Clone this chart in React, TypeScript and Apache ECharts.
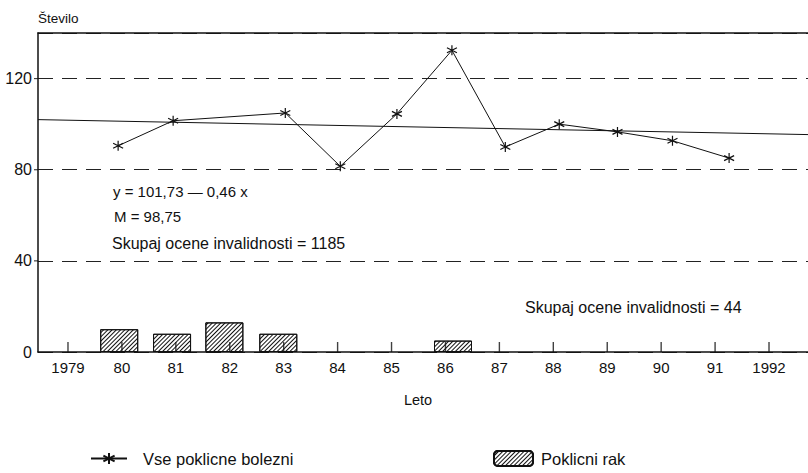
import React, { useEffect, useRef } from "react";
import * as echarts from "echarts";

// ---- data ----
const tickYears = [1979, 1980, 1981, 1982, 1983, 1984, 1985, 1986, 1987, 1988, 1989, 1990, 1991, 1992];
const lineYears = [1979.93, 1980.95, 1983.03, 1984.05, 1985.1, 1986.12, 1987.11, 1988.11, 1989.19, 1990.21, 1991.26];
const lineValues = [90.5, 101.5, 104.9, 81.5, 104.5, 132.4, 90, 100, 96.6, 92.7, 85.1];
const barYears = [1979.95, 1980.93, 1981.9, 1982.9, 1986.14];
const barValues = [10, 8, 13, 8, 5];
const yTicks = [0, 40, 80, 120];
const trendIntercept = 101.73;
const trendSlope = -0.46;
const trendOriginYear = 1979;

const X_MIN = 1978.444;
const X_MAX = 1992.723;
const FONT = '"Liberation Sans", Arial, Helvetica, sans-serif';
const INK = "#111";

const asterisk =
  "path://M5,0 L5,10 M0.67,2.5 L9.33,7.5 M0.67,7.5 L9.33,2.5";

export default function App() {
  const ref = useRef<HTMLDivElement>(null);
  useEffect(() => {
    if (!ref.current) return;
    const chart = echarts.init(ref.current, null, { renderer: "svg" });
    const trend = [X_MIN, X_MAX].map((yr) => [
      yr,
      trendIntercept + trendSlope * (yr - trendOriginYear),
    ]);
    const option: any = {
      animation: false,
      backgroundColor: "#fff",
      textStyle: { fontFamily: FONT, color: INK },
      grid: { left: 38, width: 770, top: 33, bottom: 121, containLabel: false },
      legend: [
        {
          data: [{ name: "Vse poklicne bolezni" }],
          left: 90,
          top: 450,
          padding: 0,
          itemWidth: 36,
          itemHeight: 14,
          textStyle: { fontSize: 16.5, color: INK, fontFamily: FONT, padding: [0, 0, 0, 11] },
        },
        {
          data: [{ name: "Poklicni rak" }],
          left: 493,
          top: 450,
          padding: 0,
          itemWidth: 39,
          itemHeight: 15,
          textStyle: { fontSize: 16.5, color: INK, fontFamily: FONT, padding: [0, 0, 0, 3] },
        },
      ],
      xAxis: [
        {
          type: "value",
          min: X_MIN,
          max: X_MAX,
          z: 5,
          name: "Leto",
          nameLocation: "middle",
          nameGap: 40,
          nameTextStyle: { fontSize: 14.5, color: INK, fontFamily: FONT, padding: [0, 10, 0, 0] },
          axisLine: { show: true, onZero: false, lineStyle: { color: INK, width: 1.5 } },
          axisTick: { show: false },
          axisLabel: {
            customValues: tickYears,
            fontSize: 15,
            color: INK,
            fontFamily: FONT,
            margin: 8,
            formatter: (v: number) => {
              const y = Math.round(v);
              return y === 1979 || y === 1992 ? String(y) : String(y % 100);
            },
          },
          splitLine: { show: false },
        },
        {
          type: "value",
          position: "top",
          min: X_MIN,
          max: X_MAX,
          z: 5,
          axisLine: { show: true, onZero: false, lineStyle: { color: INK, width: 1.5 } },
          axisTick: { show: false },
          axisLabel: { show: false },
          splitLine: { show: false },
        },
      ],
      yAxis: {
        type: "value",
        min: 0,
        max: 140,
        interval: 40,
        name: "Število",
        nameLocation: "end",
        nameGap: 8,
        nameTextStyle: { fontSize: 13.5, color: INK, fontFamily: FONT, align: "left" },
        axisLine: { show: true, lineStyle: { color: INK, width: 1.5 } },
        axisTick: { show: false },
        axisLabel: { customValues: yTicks, fontSize: 16, color: INK, fontFamily: FONT, margin: 6 },
        splitLine: {
          show: true,
          lineStyle: { color: "#222", type: [15, 9], width: 1 },
        },
      },
      series: [
        {
          name: "Poklicni rak",
          type: "bar",
          barWidth: 38,
          data: barYears.map((yr, i) => [yr, barValues[i]]),
          itemStyle: {
            color: "#fff",
            borderColor: INK,
            borderWidth: 1,
            decal: {
              symbol: "rect",
              symbolSize: 1,
              dashArrayX: [[1, 0]],
              dashArrayY: [1, 2],
              rotation: -Math.PI / 4,
              color: "#111",
              backgroundColor: "#fff",
            },
          },
        },
        {
          name: "trend",
          type: "line",
          data: trend,
          symbol: "none",
          lineStyle: { color: INK, width: 1 },
          silent: true,
        },
        {
          name: "Vse poklicne bolezni",
          type: "line",
          data: lineYears.map((yr, i) => [yr, lineValues[i]]),
          symbol: asterisk,
          symbolSize: 10,
          lineStyle: { color: INK, width: 1 },
          itemStyle: { color: INK, borderColor: INK, borderWidth: 1.2 },
          z: 4,
        },
        {
          name: "xTicks",
          type: "scatter",
          data: tickYears.map((yr) => [yr, 0]),
          symbol: "rect",
          symbolSize: [1.4, 10],
          symbolOffset: [0, -5],
          itemStyle: { color: INK },
          silent: true,
          z: 6,
        },
        {
          name: "yTicks",
          type: "scatter",
          data: yTicks.slice(1).map((v) => [X_MIN, v]),
          symbol: "rect",
          symbolSize: [4, 1.2],
          symbolOffset: [-2, 0],
          itemStyle: { color: INK },
          silent: true,
          z: 6,
        },
      ],
      graphic: [
        {
          type: "text",
          x: 113,
          y: 191,
          style: { text: "y = 101,73 — 0,46 x", fontSize: 15, fontFamily: FONT, fill: INK, verticalAlign: "middle" },
        },
        {
          type: "text",
          x: 114,
          y: 216,
          style: { text: "M = 98,75", fontSize: 15, fontFamily: FONT, fill: INK, verticalAlign: "middle" },
        },
        {
          type: "text",
          x: 112,
          y: 243,
          style: { text: "Skupaj ocene invalidnosti = 1185", fontSize: 16, fontFamily: FONT, fill: INK, verticalAlign: "middle" },
        },
        {
          type: "text",
          x: 525,
          y: 307,
          style: { text: "Skupaj ocene invalidnosti = 44", fontSize: 16, fontFamily: FONT, fill: INK, verticalAlign: "middle" },
        },
      ],
    };
    chart.setOption(option);
    return () => chart.dispose();
  }, []);
  return (
    <div
      ref={ref}
      style={{ position: "fixed", left: 0, top: 0, width: 808, height: 473, background: "#fff" }}
    />
  );
}
